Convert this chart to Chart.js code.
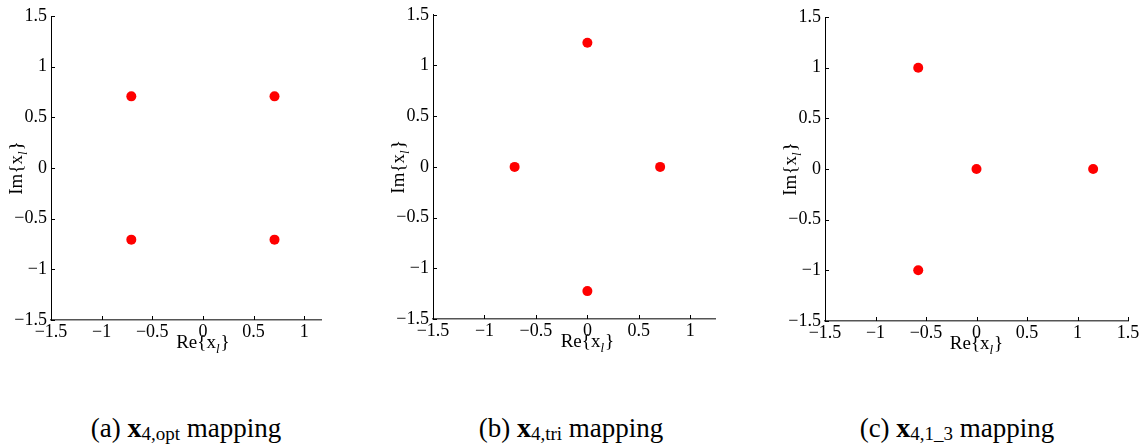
<!DOCTYPE html>
<html>
<head>
<meta charset="utf-8">
<script src="https://cdn.jsdelivr.net/npm/chart.js@4.4.0/dist/chart.umd.min.js"></script>
<style>
  body { margin: 0; background: #fff; width: 1145px; height: 448px; position: relative; overflow: hidden; }
  canvas { position: absolute; top: 0; }
  .cap { position: absolute; top: 412px; font-family: "Liberation Serif", serif; font-size: 27px; line-height: 32px; color: #000; white-space: nowrap; transform: translateX(-50%); }
  .cap b { font-size: 28px; }
  .cap sub { font-size: 19px; vertical-align: -3px; }
</style>
</head>
<body>
<canvas id="chartA" width="360" height="370" style="left:0px"></canvas>
<canvas id="chartB" width="360" height="370" style="left:380px"></canvas>
<canvas id="chartC" width="375" height="370" style="left:770px"></canvas>
<div class="cap" style="left:186px">(a) <b>x</b><sub>4,opt</sub> mapping</div>
<div class="cap" style="left:571px">(b) <b>x</b><sub>4,tri</sub> mapping</div>
<div class="cap" style="left:957px">(c) <b>x</b><sub>4,1_3</sub> mapping</div>
<script>
// constellation points
const reA = [-0.707, 0.707, -0.707, 0.707];
const imA = [0.707, 0.707, -0.707, -0.707];
const reB = [0, -0.707, 0.707, 0];
const imB = [1.225, 0, 0, -1.225];
const reC = [-0.577, 0, 1.155, -0.577];
const imC = [1, 0, 0, -1];

const yTicks = [-1.5, -1, -0.5, 0, 0.5, 1, 1.5];
const xTicksAB = [-1.5, -1, -0.5, 0, 0.5, 1];
const xTicksC = [-1.5, -1, -0.5, 0, 0.5, 1, 1.5];

const serif = '"Liberation Serif", "Times New Roman", serif';

function fmt(v) {
  return v < 0 ? '\u2212' + Math.abs(v) : String(v);
}

// inward tick marks and axis titles with the subscript l
const matlabAxes = {
  id: 'matlabAxes',
  afterDraw(chart) {
    const ctx = chart.ctx;
    const a = chart.chartArea;
    const xs = chart.scales.x, ys = chart.scales.y;
    ctx.save();
    ctx.strokeStyle = '#000';
    ctx.lineWidth = 1;
    ctx.beginPath();
    xs.ticks.forEach(t => {
      const px = Math.round(xs.getPixelForValue(t.value)) + 0.5;
      ctx.moveTo(px, a.bottom);
      ctx.lineTo(px, a.bottom - 4);
    });
    ys.ticks.forEach(t => {
      const py = Math.round(ys.getPixelForValue(t.value)) + 0.5;
      ctx.moveTo(a.left, py);
      ctx.lineTo(a.left + 4, py);
    });
    ctx.stroke();

    ctx.fillStyle = '#000';
    ctx.textBaseline = 'alphabetic';
    const drawLabel = (pre) => {
      const f1 = '19px ' + serif, f2 = 'italic 13px ' + serif;
      ctx.font = f1;
      const w1 = ctx.measureText(pre + '{x').width;
      const w3 = ctx.measureText('}').width;
      ctx.font = f2;
      const w2 = ctx.measureText('l').width + 1;
      const total = w1 + w2 + w3;
      let x = -total / 2;
      ctx.font = f1;
      ctx.textAlign = 'left';
      ctx.fillText(pre + '{x', x, 0);
      ctx.font = f2;
      ctx.fillText('l', x + w1, 5);
      ctx.font = f1;
      ctx.fillText('}', x + w1 + w2, 0);
    };
    // x title, centred on Re = 0
    ctx.save();
    ctx.translate(xs.getPixelForValue(0), a.bottom + 28);
    drawLabel('Re');
    ctx.restore();
    // y title, rotated, centred on Im = 0
    ctx.save();
    ctx.translate(a.left - 29, ys.getPixelForValue(0));
    ctx.rotate(-Math.PI / 2);
    drawLabel('Im');
    ctx.restore();
    ctx.restore();
  }
};

function makeChart(id, re, im, xMax, xTicks, pad, leftW, bottomH) {
  const pts = re.map((r, i) => ({ x: r, y: im[i] }));
  return new Chart(document.getElementById(id), {
    type: 'scatter',
    data: {
      datasets: [{
        data: pts,
        backgroundColor: '#ff0000',
        borderColor: '#ff0000',
        pointRadius: 5,
        pointBorderWidth: 0
      }]
    },
    options: {
      responsive: false,
      animation: false,
      devicePixelRatio: 1,
      layout: { padding: pad },
      plugins: { legend: { display: false }, tooltip: { enabled: false } },
      scales: {
        x: {
          type: 'linear',
          min: -1.5,
          max: xMax,
          afterBuildTicks: s => { s.ticks = xTicks.map(v => ({ value: v })); },
          afterFit: s => { s.height = bottomH; },
          grid: { drawOnChartArea: false, drawTicks: false },
          border: { display: true, color: '#555', width: 1.5 },
          ticks: { font: { family: serif, size: 18 }, color: '#000', padding: 1, maxRotation: 0, autoSkip: false, callback: fmt }
        },
        y: {
          type: 'linear',
          min: -1.5,
          max: 1.5,
          afterBuildTicks: s => { s.ticks = yTicks.map(v => ({ value: v })); },
          afterFit: s => { s.width = leftW; },
          grid: { drawOnChartArea: false, drawTicks: false },
          border: { display: true, color: '#000', width: 1 },
          ticks: { font: { family: serif, size: 18 }, color: '#000', padding: 4, autoSkip: false, callback: fmt }
        }
      }
    },
    plugins: [matlabAxes]
  });
}

makeChart('chartA', reA, imA, 1.166, xTicksAB, { left: 0, top: 16, right: 39, bottom: 0 }, 51, 50);
makeChart('chartB', reB, imB, 1.24, xTicksAB, { left: 0, top: 10, right: 25, bottom: 0 }, 53, 51);
makeChart('chartC', reC, imC, 1.5, xTicksC, { left: 0, top: 17, right: 17, bottom: 0 }, 55, 49);
</script>
</body>
</html>
